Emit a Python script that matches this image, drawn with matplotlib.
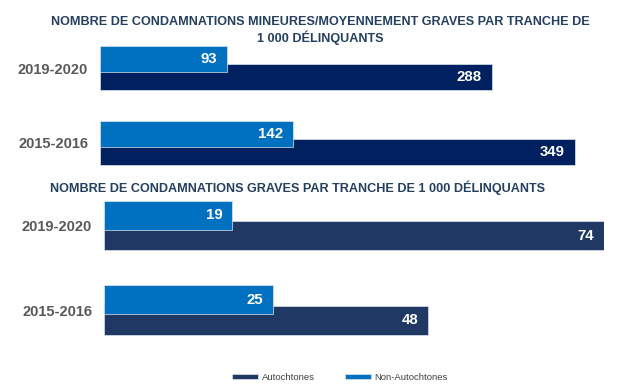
import matplotlib
matplotlib.use("Agg")
import matplotlib.pyplot as plt
import numpy as np

periods = ["2019-2020", "2015-2016"]
series = ["Autochtones", "Non-Autochtones"]
top_auto = [288, 349]
top_non = [93, 142]
bot_auto = [74, 48]
bot_non = [19, 25]
title_top = "NOMBRE DE CONDAMNATIONS MINEURES/MOYENNEMENT GRAVES PAR TRANCHE DE\n1 000 DÉLINQUANTS"
title_bot = "NOMBRE DE CONDAMNATIONS GRAVES PAR TRANCHE DE 1 000 DÉLINQUANTS"

LIGHT = "#0070C0"
DARK_TOP = "#002060"
DARK_BOT = "#1F3864"
TITLE_C = "#243F60"
TICK_C = "#595959"
FONT = ["Liberation Sans", "DejaVu Sans"]
plt.rcParams["font.family"] = FONT

W, H = 642, 390
fig = plt.figure(figsize=(W / 100, H / 100), dpi=100)


def px_axes(x0, y_top, w, h):
    return fig.add_axes([x0 / W, (H - y_top - h) / H, w / W, h / H])


def panel(ax, auto, non, dark, xmax, pad):
    y = np.arange(len(periods))
    off = 0.12
    hgt = 0.34
    ax.barh(y + off, auto, height=hgt, color=dark, edgecolor="#dfe4ea", linewidth=0.5,
            label=series[0], zorder=2)
    ax.barh(y - off, non, height=hgt, color=LIGHT, edgecolor="#dfe4ea", linewidth=0.5,
            label=series[1], zorder=3)
    for yi, v in zip(y + off, auto):
        ax.annotate(str(v), xy=(v, yi), xytext=(-7.2, 0), textcoords="offset points",
                    ha="right", va="center", color="white", fontsize=10.8,
                    fontweight="bold", zorder=5)
    for yi, v in zip(y - off, non):
        ax.annotate(str(v), xy=(v, yi), xytext=(-7.2, 0), textcoords="offset points",
                    ha="right", va="center", color="white", fontsize=10.8,
                    fontweight="bold", zorder=5)
    ax.set_xlim(0, xmax)
    ax.set_ylim(len(periods) - 0.5, -0.5)
    ax.set_yticks(y)
    ax.set_yticklabels(periods, fontsize=10.5, fontweight="bold", color=TICK_C)
    ax.tick_params(axis="y", length=0, pad=pad)
    ax.set_xticks([])
    for s in ax.spines.values():
        s.set_visible(False)
    ax.patch.set_alpha(0)


# top panel: group spacing 75 px, centers at 68 and 143
ax1 = px_axes(100, 30.5, 500, 150)
panel(ax1, top_auto, top_non, DARK_TOP, 500 / 1.361, 8.6)

# bottom panel: group spacing 84.5 px, centers at 225.5 and 310
ax2 = px_axes(104, 183.25, 500, 169)
panel(ax2, bot_auto, bot_non, DARK_BOT, 74, 8.6)

fig.text(320 / W, 1 - 30.5 / H, title_top, ha="center", va="center", fontsize=9.1,
         fontweight="bold", color=TITLE_C, linespacing=1.2)
fig.text(298 / W, 1 - 188 / H, title_bot, ha="center", va="center", fontsize=9.1,
         fontweight="bold", color=TITLE_C)

handles, labels = ax2.get_legend_handles_labels()
fig.legend(handles, labels, loc="center", bbox_to_anchor=(340 / W, 1 - 377 / H), ncol=2,
           frameon=False, fontsize=6.8, handlelength=2.75, handleheight=0.42,
           handletextpad=0.4, columnspacing=3.2, labelcolor="#404040")

fig.savefig("out.png", dpi=100)
